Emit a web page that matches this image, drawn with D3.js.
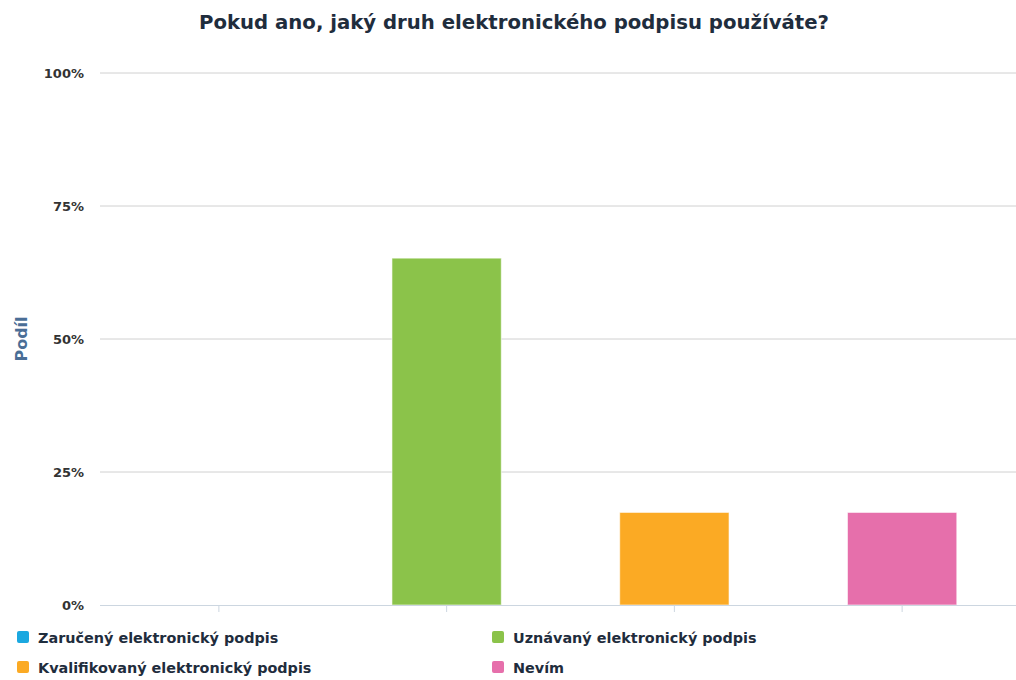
<!DOCTYPE html>
<html>
<head>
<meta charset="utf-8">
<script src="https://cdn.jsdelivr.net/npm/d3@7"></script>
<style>
  body { margin: 0; background: #fff; }
  text { font-family: "DejaVu Sans", sans-serif; font-weight: bold; }
</style>
</head>
<body>
<div id="chart"></div>
<script>
const categories = ["Zaručený elektronický podpis", "Uznávaný elektronický podpis", "Kvalifikovaný elektronický podpis", "Nevím"];
const shares = [0, 65.2, 17.4, 17.4];
const colors = ["#1ba8e0", "#8bc34a", "#fbaa24", "#e66fab"];
const yTicks = [0, 25, 50, 75, 100];

const width = 1016, height = 680;
const margin = { top: 73, right: 0, bottom: 75, left: 105 };

const svg = d3.select("#chart").append("svg")
    .attr("width", width)
    .attr("height", height);

const x = d3.scaleBand()
    .domain(categories)
    .range([margin.left, width - margin.right])
    .paddingInner(0.52)
    .paddingOuter(0.26);

const y = d3.scaleLinear()
    .domain([0, 100])
    .range([height - margin.bottom, margin.top]);

// gridlines
svg.append("g")
    .selectAll("line")
    .data(yTicks.filter(d => d > 0))
    .join("line")
    .attr("x1", 100)
    .attr("x2", width)
    .attr("y1", d => y(d))
    .attr("y2", d => y(d))
    .attr("stroke", "#d0d0d0")
    .attr("stroke-width", 1);

// y labels
svg.append("g")
    .selectAll("text")
    .data(yTicks)
    .join("text")
    .attr("x", 84)
    .attr("y", d => y(d) + 4.5)
    .attr("text-anchor", "end")
    .attr("font-size", 13)
    .attr("fill", "#333")
    .text(d => d + "%");

// bars
svg.append("g")
    .selectAll("rect")
    .data(categories)
    .join("rect")
    .attr("x", d => x(d))
    .attr("y", (d, i) => y(shares[i]))
    .attr("width", x.bandwidth())
    .attr("height", (d, i) => y(0) - y(shares[i]))
    .attr("fill", (d, i) => colors[i])
    .attr("stroke", "#fff")
    .attr("stroke-opacity", 0.6)
    .attr("stroke-width", 1);

// x axis
const xAxis = svg.append("g")
    .attr("transform", `translate(0,${y(0)})`)
    .call(d3.axisBottom(x).tickSize(7).tickFormat(""));
xAxis.select(".domain").attr("d", `M100,0.5H${width}`).attr("stroke", "#ccd6e0");
xAxis.selectAll(".tick line").attr("stroke", "#ccd6e0");

// title
svg.append("text")
    .attr("x", 514)
    .attr("y", 29)
    .attr("text-anchor", "middle")
    .attr("font-size", 19.7)
    .attr("fill", "#1f2d3d")
    .text("Pokud ano, jaký druh elektronického podpisu používáte?");

// y title
svg.append("text")
    .attr("transform", `translate(27,${y(50)}) rotate(-90)`)
    .attr("text-anchor", "middle")
    .attr("font-size", 16)
    .attr("fill", "#4a6e96")
    .text("Podíl");

// legend
const legend = svg.append("g")
    .selectAll("g")
    .data(categories)
    .join("g")
    .attr("transform", (d, i) => `translate(${i % 2 === 0 ? 17 : 492},${i < 2 ? 637 : 667})`);

legend.append("rect")
    .attr("x", 0)
    .attr("y", -6)
    .attr("width", 12)
    .attr("height", 12)
    .attr("rx", 2)
    .attr("fill", (d, i) => colors[i]);

legend.append("text")
    .attr("x", 21)
    .attr("y", 5.5)
    .attr("font-size", 14.4)
    .attr("fill", "#1f2d3d")
    .text(d => d);
</script>
</body>
</html>
